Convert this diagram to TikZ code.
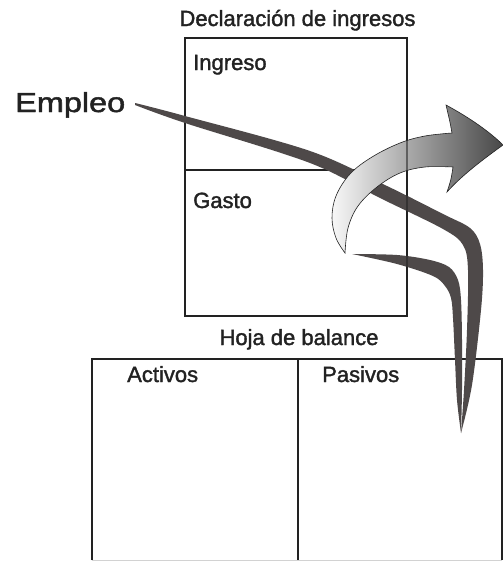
\documentclass[tikz,border=0pt]{standalone}
\usepackage{fontspec}
\setmainfont{Liberation Sans}
\newfontfamily\lblfont[FakeBold=1.6]{Liberation Sans}
\definecolor{ink}{HTML}{222222}
\definecolor{band}{HTML}{4E4949}
\begin{document}
\begin{tikzpicture}[x=1pt,y=-1pt,
  lbl/.style={inner sep=0pt, anchor=base west, text=ink, font=\lblfont\fontsize{22}{26}\selectfont},
  boxline/.style={draw=ink, line width=1.2pt},
  darkband/.style={fill=band},
  lightarrow/.style={left color=gray!6, right color=black!72, draw=ink, line width=0.6pt}]
\useasboundingbox (0,0) rectangle (503,562);
\fill[white] (0,0) rectangle (503,562);
% income statement box
\draw[boxline] (185,38) rectangle (407,316);
\draw[boxline] (185,170) -- (407,170);
% balance sheet box
\draw[boxline] (92,560) -- (92,359) -- (502,359) -- (502,560);
\draw[boxline] (298,359) -- (298,560);
\draw[gray!35, line width=0.8pt] (92,560) -- (502,560);
% labels
\node[lbl, anchor=base] (title) at (297.5,26) {Declaración de ingresos};
\node[lbl] (ingreso) at (193,70) {Ingreso};
\node[lbl] (gasto) at (193,208) {Gasto};
\node[lbl, anchor=base] (hoja) at (299,345) {Hoja de balance};
\node[lbl] (activos) at (127,382) {Activos};
\node[lbl] (pasivos) at (322,382) {Pasivos};
\node[lbl, font=\lblfont\fontsize{27.5}{30}\selectfont] (empleo) at (15,112) {\scalebox{1.18}[1]{Empleo}};
% outer dark band
\fill[darkband] plot[smooth, tension=0.55] coordinates {(135,103) (185,116) (310,151) (387,186) (443,214) (470,228) (480,244) (483,270) (481,310) (472,385) (461,433)}
  -- plot[smooth, tension=0.55] coordinates {(461,433) (464,390) (467,330) (468,270) (463,245) (443,229) (380,198) (310,163) (185,123) (135,105)} -- cycle;
% inner dark band
\fill[darkband] plot[smooth, tension=0.55] coordinates {(352,254) (397,255) (430,260) (449,267) (458,280) (461,300) (462,340) (462,390) (461,433)}
  -- plot[smooth, tension=0.55] coordinates {(461,433) (457,400) (455,360) (453,318) (451,298) (445,286) (433,276) (397,264) (352,254)} -- cycle;
% light curved arrow
\shade[lightarrow] plot[smooth, tension=0.6] coordinates {(345,253) (336,238) (332,218) (336,196) (350,174) (372,157) (400,143) (425,136) (452,133)}
  .. controls (450,122) .. (446,105)
  .. controls (470,118) and (490,132) .. (503,145)
  .. controls (485,158) and (462,175) .. (447,192)
  .. controls (451,180) .. (453,167)
  -- plot[smooth, tension=0.6] coordinates {(453,167) (425,167) (400,173) (377,187) (358,206) (348,228) (345,253)} -- cycle;
% box edge showing through
\draw[ink, line width=1.1pt, opacity=0.55] (407,38) -- (407,316);
\end{tikzpicture}
\end{document}
